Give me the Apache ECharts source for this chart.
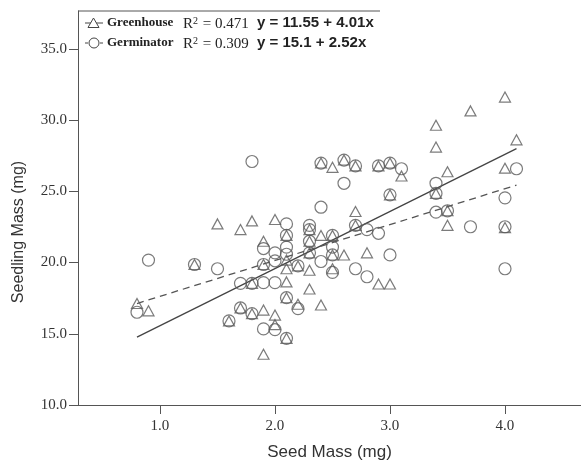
<!DOCTYPE html>
<html>
<head>
<meta charset="utf-8">
<script src="https://cdn.jsdelivr.net/npm/echarts@6/dist/echarts.min.js"></script>
<style>html,body{margin:0;padding:0;background:#fff;}#c{width:581px;height:461px;}</style>
</head>
<body>
<div id="c"></div>
<script>
// Seed mass (mg) vs seedling mass (mg)
const greenhouse = [
  [0.8,17.12],[0.9,16.61],[1.5,22.71],[1.7,22.31],[1.8,22.92],[1.9,21.49],[1.9,16.66],[1.9,13.56],
  [2.0,23.02],[2.0,16.31],[2.0,15.64],[2.1,20.17],[2.1,19.56],[2.1,18.64],[2.2,17.07],[2.3,19.46],
  [2.3,18.14],[2.4,21.9],[2.4,17.02],[2.5,26.68],[2.5,19.56],[2.6,20.53],[2.7,23.58],[2.8,20.68],
  [2.9,18.49],[3.0,18.49],[3.1,26.07],[3.4,29.63],[3.4,28.10],[3.5,26.37],[3.5,22.61],[3.7,30.64],
  [4.0,31.61],[4.0,26.62],[4.1,28.61],
  [1.3,19.86],[1.6,15.9],[1.7,16.81],[1.8,18.54],[1.8,16.41],[1.9,19.86],[2.1,21.9],[2.1,17.53],
  [2.1,14.68],[2.2,19.76],[2.3,22.31],[2.3,21.49],[2.3,20.68],[2.4,26.98],[2.5,21.9],[2.5,20.53],
  [2.6,27.19],[2.7,26.78],[2.7,22.61],[2.9,26.78],[3.0,26.98],[3.0,24.75],[3.4,24.85],[3.5,23.63],
  [4.0,22.45]
];
const germinator = [
  [0.8,16.51],[0.9,20.17],[1.5,19.56],[1.7,18.54],[1.8,27.09],[1.9,20.98],[1.9,18.59],[1.9,15.34],
  [2.0,20.68],[2.0,20.12],[2.0,18.59],[2.0,15.29],[2.1,22.71],[2.1,21.08],[2.1,20.58],[2.2,16.76],
  [2.3,22.61],[2.4,23.88],[2.4,20.07],[2.5,21.08],[2.5,19.31],[2.6,25.56],[2.7,19.56],[2.8,22.31],
  [2.8,19.0],[2.9,22.05],[3.0,20.53],[3.1,26.58],[3.4,25.56],[3.4,23.53],[3.7,22.51],[4.0,24.54],
  [4.0,19.56],[4.1,26.58],
  [1.3,19.86],[1.6,15.9],[1.7,16.81],[1.8,18.54],[1.8,16.41],[1.9,19.86],[2.1,21.9],[2.1,17.53],
  [2.1,14.68],[2.2,19.76],[2.3,22.31],[2.3,21.49],[2.3,20.68],[2.4,26.98],[2.5,21.9],[2.5,20.53],
  [2.6,27.19],[2.7,26.78],[2.7,22.61],[2.9,26.78],[3.0,26.98],[3.0,24.75],[3.4,24.85],[3.5,23.63],
  [4.0,22.51]
];
// fit lines: Greenhouse y = 11.55 + 4.01x ; Germinator y = 15.1 + 2.52x
const fitGreenhouse = [[0.8,14.76],[4.1,27.99]];
const fitGerminator = [[0.8,17.12],[4.1,25.43]];
const xTicks = [1,2,3,4];
const yTicks = [10,15,20,25,30,35];
const legendRows = [
  {name:'Greenhouse', r2:'0.471', eq:'y = 11.55 + 4.01x'},
  {name:'Germinator', r2:'0.309', eq:'y = 15.1 + 2.52x'}
];

const chart = echarts.init(document.getElementById('c'), null, {renderer:'canvas'});
const axisColor = '#555';
const markColor = '#5a5a5a';
const serif = '"Liberation Serif","Times New Roman",serif';
const sans = '"Liberation Sans",Arial,sans-serif';

const graphics = [];
// legend frame top line
graphics.push({type:'line', shape:{x1:78,y1:11,x2:380,y2:11}, style:{stroke:axisColor, lineWidth:1}});
const rowY = [23, 43];
legendRows.forEach((r,i)=>{
  const y = rowY[i];
  graphics.push({type:'line', shape:{x1:85,y1:y,x2:103,y2:y}, style:{stroke:'#444', lineWidth:1, lineDash: i===1?[3,2]:null}});
  if(i===0){
    graphics.push({type:'polygon', shape:{points:[[93.5,y-5],[88,y+4.5],[99,y+4.5]]}, style:{fill:'#fff', stroke:'#444', lineWidth:1}});
  } else {
    graphics.push({type:'circle', shape:{cx:94,cy:y,r:5}, style:{fill:'#fff', stroke:'#444', lineWidth:1}});
  }
  graphics.push({type:'text', x:107, y:y, style:{text:r.name, font:'bold 13px '+serif, fill:'#222', verticalAlign:'middle'}});
  graphics.push({type:'text', x:183, y:y+1, style:{
    text:'{b|R}{s|2}{b| = '+r.r2+'}',
    verticalAlign:'middle',
    rich:{
      b:{font:'15px '+serif, fill:'#222', verticalAlign:'bottom', lineHeight:16},
      s:{font:'10px '+serif, fill:'#222', verticalAlign:'top', lineHeight:16, padding:[0,1,6,0]}
    }
  }});
  graphics.push({type:'text', x:257, y:y, style:{text:r.eq, font:'bold 15px '+sans, fill:'#222', verticalAlign:'middle'}});
});
// y-axis title
graphics.push({type:'text', x:19, y:232, rotation:Math.PI/2,
  style:{text:'Seedling Mass (mg)', font:'16px '+sans, fill:'#333', align:'center', verticalAlign:'middle'}});

chart.setOption({
  animation:false,
  backgroundColor:'#fff',
  grid:{left:78, right:0, top:11, bottom:56, containLabel:false, outerBoundsMode:'none'},
  xAxis:{
    type:'value', min:0.287, max:4.661,
    name:'Seed Mass (mg)', nameLocation:'middle', nameGap:39,
    nameTextStyle:{fontFamily:sans, fontSize:17, color:'#333'},
    axisLine:{show:true, onZero:false, lineStyle:{color:axisColor, width:1}},
    axisTick:{show:true, length:9, customValues:xTicks, lineStyle:{color:axisColor}},
    axisLabel:{customValues:xTicks, margin:14, fontFamily:serif, fontSize:15, color:'#333',
      formatter:v=>v.toFixed(1)},
    splitLine:{show:false}
  },
  yAxis:{
    type:'value', min:10, max:37.65,
    axisLine:{show:true, onZero:false, lineStyle:{color:axisColor, width:1}},
    axisTick:{show:true, length:9, customValues:yTicks, lineStyle:{color:axisColor}},
    axisLabel:{customValues:yTicks, margin:11, fontFamily:serif, fontSize:15, color:'#333',
      formatter:v=>v.toFixed(1)},
    splitLine:{show:false}
  },
  graphic:graphics,
  series:[
    {type:'line', data:fitGreenhouse, symbol:'none', silent:true,
     lineStyle:{color:'#444', width:1.3, type:'solid'}, z:1},
    {type:'line', data:fitGerminator, symbol:'none', silent:true,
     lineStyle:{color:'#555', width:1.3, type:[7,5]}, z:1},
    {type:'scatter', name:'Germinator', data:germinator, symbol:'circle', symbolSize:12,
     itemStyle:{color:'rgba(255,255,255,0)', borderColor:markColor, borderWidth:1.2}, z:2},
    {type:'scatter', name:'Greenhouse', data:greenhouse, symbol:'triangle', symbolSize:[11,10],
     itemStyle:{color:'rgba(255,255,255,0)', borderColor:markColor, borderWidth:1.2}, z:3}
  ]
});
</script>
</body>
</html>
